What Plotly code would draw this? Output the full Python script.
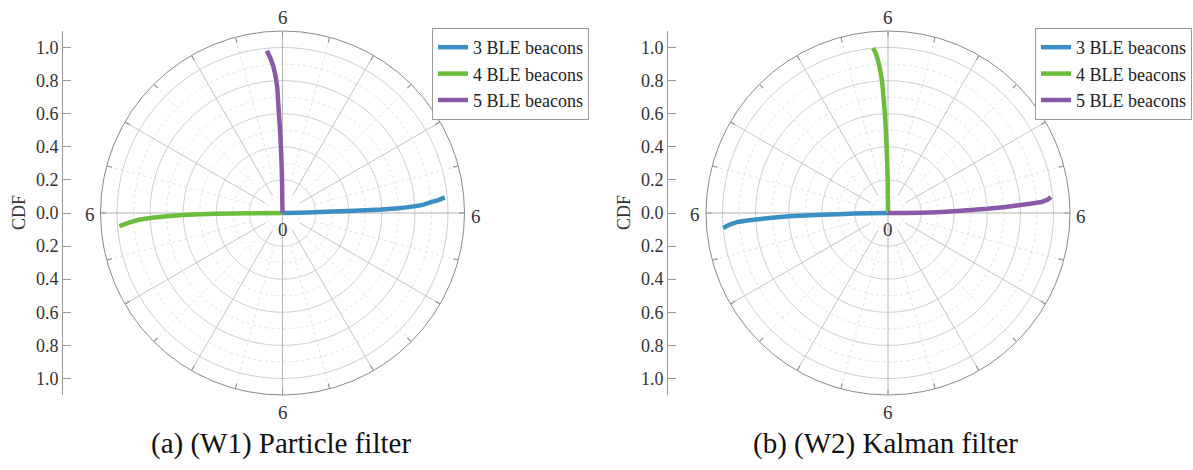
import numpy as np
import plotly.graph_objects as go

# ---------------- data (CDF radius, angle in degrees) ----------------
series_names = ["3 BLE beacons", "4 BLE beacons", "5 BLE beacons"]
series_colors = ["#3b8fc4", "#6cbd3c", "#8a5aa8"]

# (a) Particle filter
pf_blue_r = [0, 0.1, 0.2, 0.3, 0.4, 0.5, 0.6, 0.7, 0.75, 0.8, 0.85, 0.9, 0.95, 0.985]
pf_blue_t = [0, 1.0, 1.4, 1.6, 1.7, 1.85, 2.0, 2.3, 2.6, 2.9, 3.3, 4.2, 4.8, 5.5]
pf_green_r = [0, 0.2, 0.3, 0.4, 0.5, 0.6, 0.7, 0.8, 0.87, 0.93, 0.99]
pf_green_t = [180, 180.3, 180.45, 180.6, 180.8, 181.2, 181.6, 182.2, 182.7, 183.6, 184.6]
pf_purple_r = [0, 0.2, 0.3, 0.4, 0.5, 0.58, 0.66, 0.76, 0.83, 0.89, 0.94, 0.985]
pf_purple_t = [90, 90.8, 91.1, 91.4, 91.7, 92.0, 92.2, 92.4, 92.9, 93.6, 94.5, 95.5]

# (b) Kalman filter
kf_blue_r = [0, 0.1, 0.2, 0.3, 0.4, 0.5, 0.6, 0.7, 0.77, 0.84, 0.91, 0.96, 1.0]
kf_blue_t = [180, 180.6, 181.0, 181.3, 181.5, 181.7, 181.9, 182.3, 182.7, 183.0, 183.4, 184.2, 185.2]
kf_green_r = [0, 0.2, 0.3, 0.4, 0.5, 0.6, 0.7, 0.8, 0.86, 0.92, 0.97, 1.0]
kf_green_t = [90, 90.6, 90.9, 91.2, 91.5, 91.8, 92.2, 92.6, 93.1, 93.7, 94.4, 95.2]
kf_purple_r = [0, 0.1, 0.2, 0.3, 0.4, 0.5, 0.6, 0.7, 0.78, 0.86, 0.93, 0.97, 0.99]
kf_purple_t = [0, 0.3, 0.6, 1.0, 1.5, 2.0, 2.4, 2.9, 3.3, 3.7, 4.1, 4.8, 5.6]

cdf_tickvals = [-1.0, -0.8, -0.6, -0.4, -0.2, 0.0, 0.2, 0.4, 0.6, 0.8, 1.0]
cdf_ticktext = ["1.0", "0.8", "0.6", "0.4", "0.2", "0.0", "0.2", "0.4", "0.6", "0.8", "1.0"]
captions = ["(a) (W1) Particle filter", "(b) (W2) Kalman filter"]
edge_label = "6"
center_label = "0"

SERIF = "Liberation Serif"
W, H = 1193, 470

fig = go.Figure()

# ---------------- grid helpers (decoration) ----------------
def circle_trace(radii, subplot, color, dash):
    rr, tt = [], []
    th = np.linspace(0, 360, 361)
    for r in radii:
        rr += [r] * len(th) + [None]
        tt += list(th) + [None]
    return go.Scatterpolar(r=rr, theta=tt, mode="lines", subplot=subplot,
                           line=dict(color=color, width=1, dash=dash),
                           hoverinfo="skip", showlegend=False)

def spoke_trace(angles, r0, r1, subplot, color, dash):
    rr, tt = [], []
    for a in angles:
        rr += [r0, r1, None]
        tt += [a, a, None]
    return go.Scatterpolar(r=rr, theta=tt, mode="lines", subplot=subplot,
                           line=dict(color=color, width=1, dash=dash),
                           hoverinfo="skip", showlegend=False)

for sp in ["polar", "polar2"]:
    fig.add_trace(circle_trace([0.1, 0.3, 0.5, 0.7, 0.9], sp, "#e2e2e2", "dot"))
    fig.add_trace(spoke_trace([15, 45, 75, 105, 135, 165, 195, 225, 255, 285, 315, 345],
                              0.2, 1.1, sp, "#e2e2e2", "dot"))
    fig.add_trace(circle_trace([0.2, 0.4, 0.6, 0.8, 1.0], sp, "#cccccc", "solid"))
    fig.add_trace(spoke_trace([30, 60, 120, 150, 210, 240, 300, 330], 0.12, 1.1, sp, "#c4c4c4", "solid"))
    fig.add_trace(spoke_trace([0, 90, 180, 270], 0, 1.1, sp, "#b4b4b4", "solid"))

# ---------------- data traces ----------------
pf = [(pf_blue_r, pf_blue_t), (pf_green_r, pf_green_t), (pf_purple_r, pf_purple_t)]
kf = [(kf_blue_r, kf_blue_t), (kf_green_r, kf_green_t), (kf_purple_r, kf_purple_t)]
for (r, t), name, col in zip(pf, series_names, series_colors):
    fig.add_trace(go.Scatterpolar(r=r, theta=t, mode="lines", name=name, subplot="polar",
                                  legend="legend", line=dict(color=col, width=4.5)))
for (r, t), name, col in zip(kf, series_names, series_colors):
    fig.add_trace(go.Scatterpolar(r=r, theta=t, mode="lines", name=name, subplot="polar2",
                                  legend="legend2", line=dict(color=col, width=4.5)))

# invisible traces to create CDF axes
fig.add_trace(go.Scatter(x=[None], y=[None], xaxis="x", yaxis="y", showlegend=False))
fig.add_trace(go.Scatter(x=[None], y=[None], xaxis="x2", yaxis="y2", showlegend=False))

# ---------------- layout ----------------
cy = 213.0
rad = 182.0
ydom = [(H - cy - rad) / H, (H - cy + rad) / H]
centers = [282.5, 888.0]

def polar_layout(cx):
    return dict(
        domain=dict(x=[(cx - rad) / W, (cx + rad) / W], y=ydom),
        bgcolor="white",
        radialaxis=dict(range=[0, 1.1], visible=False),
        angularaxis=dict(rotation=0, direction="counterclockwise", showgrid=False,
                         showline=True, linecolor="#8a8a8a", linewidth=1,
                         ticks="inside", ticklen=5, tickcolor="#8a8a8a",
                         tickmode="array", tickvals=list(range(0, 360, 15)),
                         showticklabels=False),
    )

axis_x = [63.0, 668.0]

def yaxis_layout(anchor):
    return dict(domain=ydom, range=[-1.1, 1.1], anchor=anchor,
                tickmode="array", tickvals=cdf_tickvals, ticktext=cdf_ticktext,
                ticks="inside", ticklen=8, tickcolor="#999999", tickwidth=1,
                showline=True, linecolor="#999999", linewidth=1,
                showgrid=False, zeroline=False,
                tickfont=dict(family=SERIF, size=18, color="#333333"))

def xaxis_layout(x0):
    return dict(domain=[x0 / W, (x0 + 2) / W], visible=False, range=[0, 1])

annotations = []
for i, cx in enumerate(centers):
    for (ax_, ay_) in [(cx, 18), (cx, 412), (cx - 193, 214), (cx + 193, 216)]:
        annotations.append(dict(x=ax_ / W, y=1 - ay_ / H, xref="paper", yref="paper",
                                text=edge_label, showarrow=False,
                                font=dict(family=SERIF, size=19, color="#333333"),
                                xanchor="center", yanchor="middle"))
    annotations.append(dict(x=cx / W, y=1 - 229 / H, xref="paper", yref="paper",
                            text=center_label, showarrow=False,
                            font=dict(family=SERIF, size=19, color="#333333"),
                            xanchor="center", yanchor="middle"))
    annotations.append(dict(x=(axis_x[i] - 44) / W, y=1 - cy / H, xref="paper", yref="paper",
                            text="CDF", showarrow=False, textangle=-90,
                            font=dict(family=SERIF, size=18, color="#333333"),
                            xanchor="center", yanchor="middle"))
    annotations.append(dict(x=(cx - 2) / W, y=1 - 443 / H, xref="paper", yref="paper",
                            text=captions[i], showarrow=False,
                            font=dict(family=SERIF, size=29, color="#111111"),
                            xanchor="center", yanchor="middle"))

legend_common = dict(xref="paper", yref="paper", xanchor="left", yanchor="top",
                     bgcolor="white", bordercolor="#9a9a9a", borderwidth=1,
                     font=dict(family=SERIF, size=18, color="#222222"),
                     tracegroupgap=0, itemwidth=30)

fig.update_layout(
    width=W, height=H,
    margin=dict(l=0, r=0, t=0, b=0, autoexpand=False),
    paper_bgcolor="white", plot_bgcolor="white",
    polar=polar_layout(centers[0]),
    polar2=polar_layout(centers[1]),
    xaxis=xaxis_layout(axis_x[0]), yaxis=yaxis_layout("x"),
    xaxis2=xaxis_layout(axis_x[1]), yaxis2=yaxis_layout("x2"),
    legend=dict(x=432 / W, y=1 - 28 / H, **legend_common),
    legend2=dict(x=1035 / W, y=1 - 28 / H, **legend_common),
    annotations=annotations,
    showlegend=True,
)

fig.write_html("out.html")
